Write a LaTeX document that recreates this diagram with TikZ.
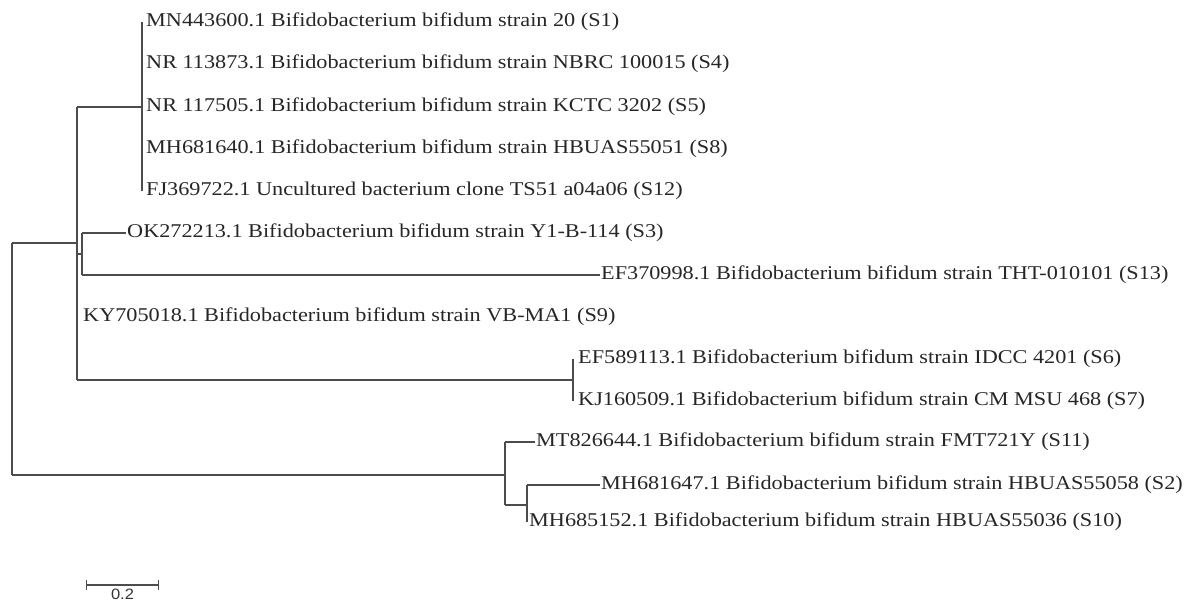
\documentclass[tikz,border=0pt]{standalone}
\usepackage{fontspec}
\setmainfont{Liberation Serif}[FakeStretch=1.14]
\setsansfont{Liberation Sans}[FakeStretch=1.1]
\usepackage{tikz}
\usetikzlibrary{positioning,arrows,calc}

\begin{document}
\begin{tikzpicture}[x=1pt, y=-1pt,
  leaf/.style={anchor=west, inner sep=1pt, font=\fontsize{19.5}{22}\selectfont, text=black!85},
  branch/.style={line width=1.3pt, draw=black!70}]
\useasboundingbox (0,0) rectangle (1192,608);

% Internal nodes
\coordinate (nA) at (142,107);
\coordinate (nB) at (82,254);
\coordinate (nC) at (573,380);
\coordinate (nD) at (77,243);
\coordinate (nE) at (527,505);
\coordinate (nF) at (505,475);
\coordinate (root) at (12,359);

% Leaves
\node [leaf] (s1) at (145,22) {MN443600.1 Bifidobacterium bifidum strain 20 (S1)};
\node [leaf] (s4) at (145,64) {NR 113873.1 Bifidobacterium bifidum strain NBRC 100015 (S4)};
\node [leaf] (s5) at (145,107) {NR 117505.1 Bifidobacterium bifidum strain KCTC 3202 (S5)};
\node [leaf] (s8) at (145,149) {MH681640.1 Bifidobacterium bifidum strain HBUAS55051 (S8)};
\node [leaf] (s12) at (145,191) {FJ369722.1 Uncultured bacterium clone TS51 a04a06 (S12)};
\node [leaf] (s3) at (126,233) {OK272213.1 Bifidobacterium bifidum strain Y1-B-114 (S3)};
\node [leaf] (s13) at (600,275) {EF370998.1 Bifidobacterium bifidum strain THT-010101 (S13)};
\node [leaf] (s9) at (82,317) {KY705018.1 Bifidobacterium bifidum strain VB-MA1 (S9)};
\node [leaf] (s6) at (577,359) {EF589113.1 Bifidobacterium bifidum strain IDCC 4201 (S6)};
\node [leaf] (s7) at (577,401) {KJ160509.1 Bifidobacterium bifidum strain CM MSU 468 (S7)};
\node [leaf] (s11) at (535,442) {MT826644.1 Bifidobacterium bifidum strain FMT721Y (S11)};
\node [leaf] (s2) at (600,485) {MH681647.1 Bifidobacterium bifidum strain HBUAS55058 (S2)};
\node [leaf] (s10) at (528,522) {MH685152.1 Bifidobacterium bifidum strain HBUAS55036 (S10)};

% Vertical lines
\draw [branch] (nA |- s1) -- (nA |- s12);
\draw [branch] (nB |- s3) -- (nB |- s13);
\draw [branch] (nC |- s6) -- (nC |- s7);
\draw [branch] (nD |- nA) -- (nD |- nC);
\draw [branch] (nE |- s2) -- (nE |- s10);
\draw [branch] (nF |- s11) -- (nF |- nE);
\draw [branch] (root |- nD) -- (root |- nF);

% Horizontal branches
\draw [branch] (nD |- nA) -- (nA);
\draw [branch] (nD |- nB) -- (nB);
\draw [branch] (nD |- nC) -- (nC);
\draw [branch] (nF |- nE) -- (nE);
\draw [branch] (root |- nD) -- (nD);
\draw [branch] (root |- nF) -- (nF);
\draw [branch] (nB |- s3) -- (s3);
\draw [branch] (nB |- s13) -- (s13);
\draw [branch] (nF |- s11) -- (s11);
\draw [branch] (nE |- s2) -- (s2);

% Scale bar
\coordinate (sb1) at (86,585);
\coordinate (sb2) at (159,585);
\draw [branch, |-|] (sb1) -- (sb2);
\node [font=\sffamily\fontsize{15}{16}\selectfont, text=black!80, below=0pt of $(sb1)!0.5!(sb2)$] (sblabel) {0.2};
\end{tikzpicture}
\end{document}
